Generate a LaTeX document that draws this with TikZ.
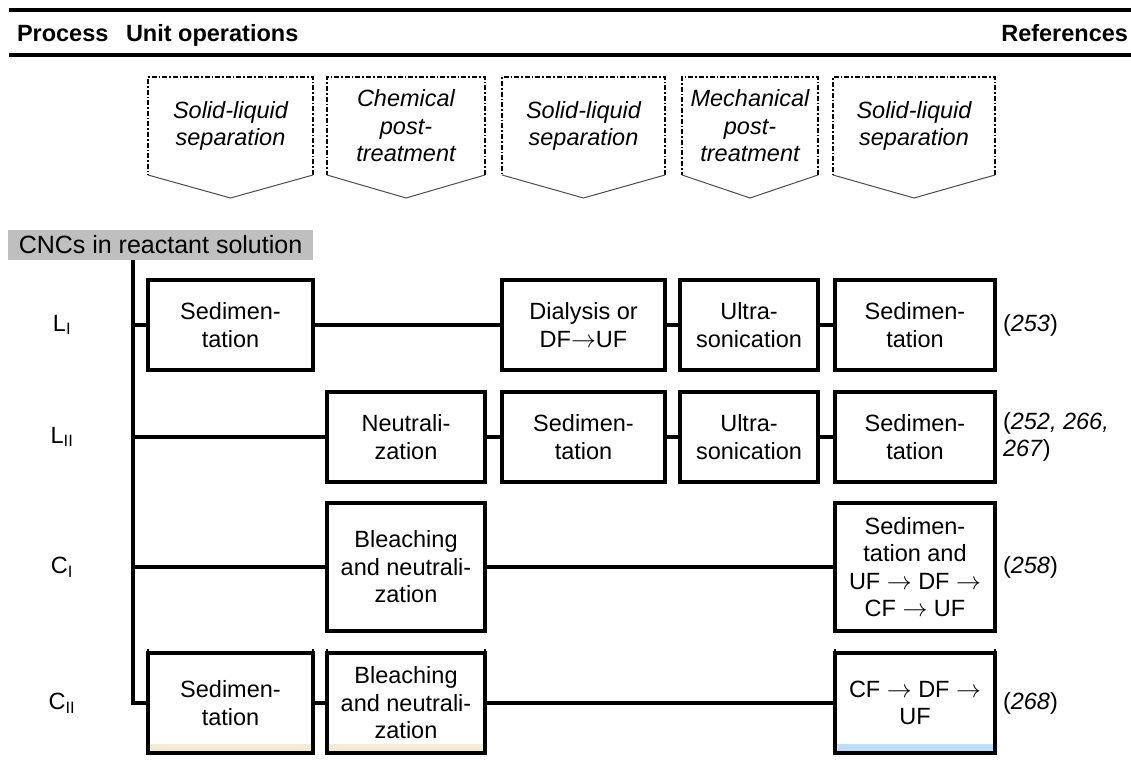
\documentclass[tikz,border=0pt]{standalone}
\usepackage{fontspec}
\setmainfont{Liberation Sans}
\usetikzlibrary{calc}
\newcommand\bxfont{\fontsize{23.5}{27.5}\selectfont}
\newcommand\srcfont{\fontsize{25}{27}\selectfont}
\newcommand\phfont{\fontsize{23.5}{27.5}\selectfont\itshape}
\newcommand\hdfont{\fontsize{23.5}{26}\selectfont\bfseries}
\definecolor{srcgrey}{HTML}{BFBFBF}
\definecolor{tanstrip}{HTML}{F4ECD2}
\definecolor{bluestrip}{HTML}{BDDEF8}
\begin{document}
\begin{tikzpicture}[x=1pt,y=-1pt,
  every node/.style={inner sep=0pt, outer sep=0pt},
  box/.style={draw, line width=3.3pt, align=center, font=\bxfont},
  colA/.style={minimum width=165pt},
  colB/.style={minimum width=158pt},
  colC/.style={minimum width=163pt},
  colD/.style={minimum width=138pt},
  colE/.style={minimum width=160pt},
  rowL/.style={minimum height=90pt},
  rowC/.style={minimum height=128pt},
  rowD/.style={minimum height=100pt},
  strip/.style={path picture={\fill[#1] (path picture bounding box.south west)
      rectangle ([yshift=9pt]path picture bounding box.south east);}},
  tick/.style={line width=1.6pt},
  link/.style={line width=3.3pt},
  rule/.style={line width=4pt},
  head/.style={font=\hdfont, anchor=base west},
  phase/.style={align=center, font=\phfont, minimum height=98pt},
  dashside/.style={line width=1.8pt, dash pattern=on 5pt off 2pt on 1.6pt off 2pt},
  chev/.style={line width=1pt, draw=black!70},
  lab/.style={font=\bxfont},
  ref/.style={font=\bxfont, align=left, anchor=west},
]
\useasboundingbox (0,0) rectangle (1131,767);

% table rules and header
\draw[rule] (9,10) -- (1131,10);
\draw[rule] (9,55) -- (1131,55);
\node[head] (hp) at (17,42) {Process};
\node[head] (hu) at (126,42) {Unit operations};
\node[head, anchor=base east] (hr) at (1128,42) {References};

% phase headers (dash-dotted chevrons)
\foreach \n/\cx/\w/\t in {
  1/230.5/165/{Solid-liquid\\separation},
  2/406/158/{Chemical\\post-\\treatment},
  3/583.5/163/{Solid-liquid\\separation},
  4/750/136/{Mechanical\\post-\\treatment},
  5/914/162/{Solid-liquid\\separation}}{
  \node[phase, minimum width=\w pt] (p\n) at (\cx,126) {\t};
  \draw[dashside] (p\n.south east) -- (p\n.north east) -- (p\n.north west) -- (p\n.south west);
  \draw[chev] (p\n.south west) -- ([yshift=-23pt]p\n.south) -- (p\n.south east);
}

% source
\node[fill=srcgrey, minimum width=305pt, minimum height=30pt, font=\srcfont] (src) at (160.5,245) {CNCs in reactant solution};
\coordinate (tk) at (133,260);

% row labels
\node[lab] (lA) at (62,325) {L\textsubscript{I}};
\node[lab] (lB) at (62,437) {L\textsubscript{II}};
\node[lab] (lC) at (62,567) {C\textsubscript{I}};
\node[lab] (lD) at (62,703) {C\textsubscript{II}};

% row L_I
\node[box, colA, rowL] (a1) at (230.5,325) {Sedimen-\\tation};
\node[box, colC, rowL] (a3) at (583.5,325) {Dialysis or\\DF$\rightarrow$UF};
\node[box, colD, rowL] (a4) at (749,325) {Ultra-\\sonication};
\node[box, colE, rowL] (a5) at (915,325) {Sedimen-\\tation};
\node[ref] (rA) at (1003,325) {(\textit{253})};

% row L_II
\node[box, colB, rowL] (b2) at (406,437) {Neutrali-\\zation};
\node[box, colC, rowL] (b3) at (583.5,437) {Sedimen-\\tation};
\node[box, colD, rowL] (b4) at (749,437) {Ultra-\\sonication};
\node[box, colE, rowL] (b5) at (915,437) {Sedimen-\\tation};
\node[ref] (rB) at (1003,437) {(\textit{252, 266,}\\\textit{267})};

% row C_I
\node[box, colB, rowC] (c2) at (406,567) {Bleaching\\and neutrali-\\zation};
\node[box, colE, rowC] (c5) at (915,567) {Sedimen-\\tation and\\UF $\rightarrow$ DF $\rightarrow$\\CF $\rightarrow$ UF};
\node[ref] (rC) at (1003,567) {(\textit{258})};

% row C_II
\node[box, colA, rowD, strip=tanstrip] (d1) at (230.5,703) {Sedimen-\\tation};
\node[box, colB, rowD, strip=tanstrip] (d2) at (406,703) {Bleaching\\and neutrali-\\zation};
\node[box, colE, rowD, strip=bluestrip] (d5) at (915,703) {CF $\rightarrow$ DF $\rightarrow$\\UF};
\node[ref] (rD) at (1003,703) {(\textit{268})};
\foreach \b in {d1,d2,d5}{
  \draw[tick] (\b.north west) -- ++(0,-4);
  \draw[tick] (\b.north east) -- ++(0,-4);
}

% trunk and branches
\draw[link] (tk) |- (d1);
\draw[link] (tk |- a1) -- (a1);
\draw[link] (tk |- b2) -- (b2);
\draw[link] (tk |- c2) -- (c2);

% links between unit operations
\draw[link] (a1) -- (a3);
\draw[link] (a3) -- (a4);
\draw[link] (a4) -- (a5);
\draw[link] (b2) -- (b3);
\draw[link] (b3) -- (b4);
\draw[link] (b4) -- (b5);
\draw[link] (c2) -- (c5);
\draw[link] (d1) -- (d2);
\draw[link] (d2) -- (d5);
\end{tikzpicture}
\end{document}
